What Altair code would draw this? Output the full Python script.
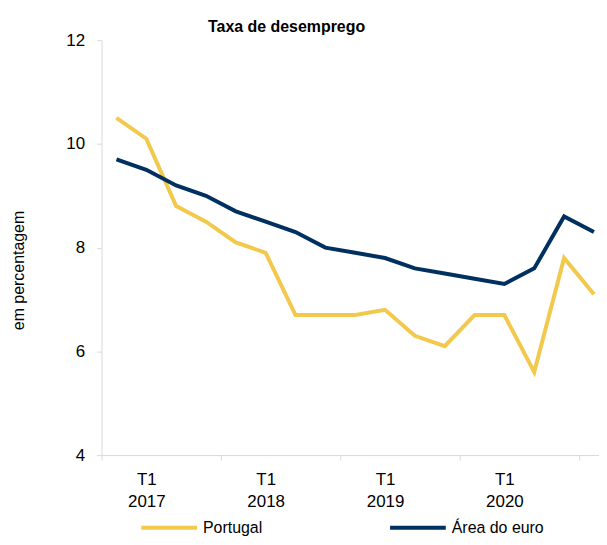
import altair as alt
import pandas as pd

quarters = ["2017T1","2017T2","2017T3","2017T4","2018T1","2018T2","2018T3","2018T4",
            "2019T1","2019T2","2019T3","2019T4","2020T1","2020T2","2020T3","2020T4","2021T1"]
portugal = [10.5, 10.1, 8.8, 8.5, 8.1, 7.9, 6.7, 6.7, 6.7, 6.8, 6.3, 6.1, 6.7, 6.7, 5.6, 7.8, 7.1]
euro = [9.7, 9.5, 9.2, 9.0, 8.7, 8.5, 8.3, 8.0, 7.9, 7.8, 7.6, 7.5, 7.4, 7.3, 7.6, 8.6, 8.3]
series_names = ["Portugal", "Área do euro"]
series_colors = ["#F2C94C", "#00305F"]
tick_positions = [-0.5, 3.5, 7.5, 11.5, 15.5]
tick_labels = ["T1\n2017", "T1\n2018", "T1\n2019", "T1\n2020", ""]

rows = []
for i, q in enumerate(quarters):
    rows.append({"idx": i, "quarter": q, "serie": series_names[0], "valor": portugal[i]})
    rows.append({"idx": i, "quarter": q, "serie": series_names[1], "valor": euro[i]})
df = pd.DataFrame(rows)

parts = []
for p, l in zip(tick_positions, tick_labels):
    parts.append(f"datum.value == {p} ? {l.split(chr(10)) if l else ['']}")
label_expr = " : ".join(parts) + " : ''"

chart = alt.Chart(df).mark_line(strokeWidth=4, clip=True).encode(
    x=alt.X("idx:Q",
            scale=alt.Scale(domain=[-0.5, 16.17], nice=False, zero=False),
            axis=alt.Axis(values=tick_positions, labelExpr=label_expr, title=None,
                          grid=False, domainColor="#D9D9D9", tickColor="#D9D9D9",
                          tickSize=5, labelOffset=45, labelPadding=12,
                          labelFont="Liberation Sans", labelFontSize=17, labelColor="#000000",
                          labelLineHeight=22, labelAlign="center", labelBaseline="top")),
    y=alt.Y("valor:Q",
            scale=alt.Scale(domain=[4, 12], nice=False, zero=False),
            axis=alt.Axis(values=[4, 6, 8, 10, 12], title="em percentagem", grid=False,
                          domainColor="#D9D9D9", tickColor="#D9D9D9", tickSize=5,
                          labelPadding=12, labelFont="Liberation Sans", labelFontSize=17,
                          labelColor="#000000", titleFont="Liberation Sans", titleFontSize=16,
                          titleFontWeight="normal", titleColor="#000000",
                          titleX=-83, titleY=231, titleAngle=-90, titleAlign="center",
                          titleBaseline="middle")),
    color=alt.Color("serie:N",
                    scale=alt.Scale(domain=series_names, range=series_colors),
                    legend=alt.Legend(title=None, orient="none", legendX=38, legendY=460,
                                      direction="horizontal", symbolType="stroke",
                                      symbolSize=3136, symbolStrokeWidth=4, padding=0,
                                      labelFont="Liberation Sans", labelFontSize=16,
                                      labelColor="#000000", columnPadding=120,
                                      symbolOffset=0, labelOffset=4)),
).properties(
    width=500, height=417,
    title=alt.TitleParams("Taxa de desemprego", font="Liberation Sans", fontSize=16,
                          fontWeight="bold", color="#000000", anchor="middle", dx=-64,
                          dy=9, offset=5),
    autosize=alt.AutoSizeParams(type="none"),
    padding={"left": 94, "top": 31, "right": 0, "bottom": 80},
).configure_view(stroke=None)

chart.save("out.html", embed_options={"renderer": "svg", "actions": False})
